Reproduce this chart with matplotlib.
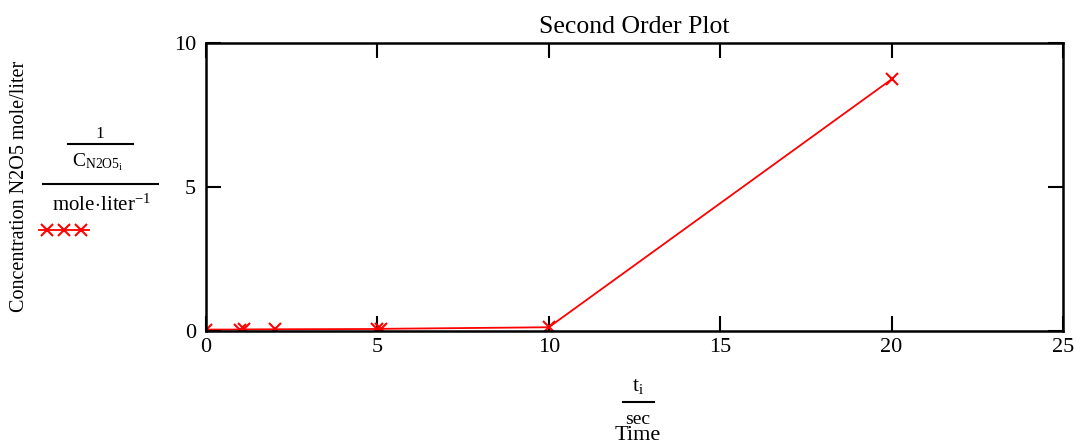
import matplotlib
matplotlib.use("Agg")
import matplotlib.pyplot as plt
from matplotlib.lines import Line2D

plt.rcParams['font.family'] = ['Liberation Serif', 'DejaVu Serif']
plt.rcParams['mathtext.fontset'] = 'custom'
plt.rcParams['mathtext.rm'] = 'Liberation Serif'
plt.rcParams['mathtext.it'] = 'Liberation Serif:italic'

# data
time_s = [0, 1, 1.1, 2, 5, 5.1, 10, 20]
inv_conc = [0.05, 0.05, 0.055, 0.06, 0.07, 0.075, 0.13, 8.74]
x_ticks = [0, 5, 10, 15, 20, 25]
y_ticks = [0, 5, 10]

W, H = 1081, 445
fig = plt.figure(figsize=(W / 100, H / 100), dpi=100)

def fx(x):
    return x / W

def fy(y):
    return 1 - y / H

ax = fig.add_axes([fx(206), fy(331), fx(1063) - fx(206), fy(43) - fy(331)])
ax.plot(time_s, inv_conc, color='red', lw=1.3, marker='x', ms=8.5, mew=1.5, clip_on=True)
ax.set_xlim(0, 25)
ax.set_ylim(0, 10)
ax.set_xticks(x_ticks)
ax.set_yticks(y_ticks)
ax.tick_params(direction='in', length=10.5, width=1.5, top=True, right=True,
               labelsize=16, colors='black')
ax.tick_params(axis='x', pad=5)
ax.tick_params(axis='y', pad=7)
for s in ax.spines.values():
    s.set_linewidth(1.8)
ax.set_title('Second Order Plot', fontsize=18.5, pad=7)

# y label block
fig.text(fx(20), fy(186), 'Concentration N2O5 mole/liter', rotation=90,
         ha='center', va='center', fontsize=14.5)
fig.text(fx(100), fy(134), '1', ha='center', va='center', fontsize=12.5)
fig.add_artist(Line2D([fx(68), fx(133)], [fy(144), fy(144)], color='black', lw=1.5))
fig.text(fx(98), fy(162), r'$\mathrm{C_{N2O5_{i}}}$', ha='center', va='center', fontsize=14)
fig.add_artist(Line2D([fx(43), fx(158)], [fy(184), fy(184)], color='black', lw=1.5))
fig.text(fx(102), fy(205), r'$\mathrm{mole\!\cdot\!liter^{-1}}$', ha='center', va='center', fontsize=15)
fig.add_artist(Line2D([fx(39), fx(89)], [fy(230), fy(230)], color='red', lw=1.3))
fig.add_artist(Line2D([fx(47), fx(64), fx(81)], [fy(230)] * 3, color='red', lw=0,
                      marker='x', ms=8.5, mew=1.5))

# x label block
fig.text(fx(638), fy(386), r'$\mathrm{t_{i}}$', ha='center', va='center', fontsize=15.5)
fig.add_artist(Line2D([fx(623), fx(654)], [fy(402), fy(402)], color='black', lw=1.5))
fig.text(fx(638), fy(419), 'sec', ha='center', va='center', fontsize=14)
fig.text(fx(638), fy(435), 'Time', ha='center', va='center', fontsize=16)

fig.savefig('out.png', dpi=100)
